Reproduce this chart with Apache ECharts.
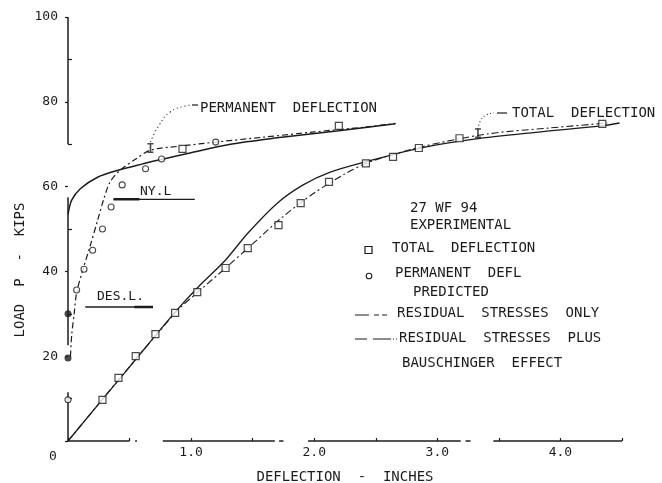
<!DOCTYPE html>
<html><head><meta charset="utf-8">
<script src="https://cdn.jsdelivr.net/npm/echarts@6/dist/echarts.min.js"></script>
<style>html,body{margin:0;padding:0;background:#fff}#c{width:662px;height:483px}</style>
</head><body><div id="c"></div>
<script>
// ---- tick labels ----
const xLabelValues = [0, 1, 2, 3, 4];
const xTickLabels = ['0', '1.0', '2.0', '3.0', '4.0'];
const yLabelValues = [20, 40, 60, 80, 100];
const yTickLabels = ['20', '40', '60', '80', '100'];

// ---- experimental points ----
const totalSquares = [[0.28,9.7],[0.41,14.9],[0.55,20],[0.71,25.2],[0.87,30.2],[1.05,35.1],[1.28,40.8],[1.46,45.5],[1.71,50.9],[1.89,56.1],[2.12,61.1],[2.42,65.5],[2.64,67],[2.85,69.1],[3.18,71.4],[4.34,74.8],[0.93,68.9],[2.2,74.3]];
const permCircles = [[0,9.7],[0.07,35.6],[0.13,40.5],[0.2,45],[0.28,50],[0.35,55.2],[0.44,60.4],[0.63,64.2],[0.76,66.5],[1.2,70.5]];
const permFilled = [[0,19.6],[0,30]];
const iBars = [[0.67,69.1],[3.33,72.6]];

// ---- predicted curves ----
const totalSolid = [[0,0],[0.5,17.5],[0.87,30.4],[1.05,36.1],[1.28,42.7],[1.46,49],[1.70,56.1],[1.91,60.4],[2.13,63.4],[2.41,65.8],[2.86,69.1],[3.3,71.2],[3.8,72.8],[4.33,74.3],[4.48,75]];
const totalDashDot = [[0,0],[0.87,30.2],[1.05,35],[1.28,40.8],[1.5,46.5],[1.75,53],[2.0,58.5],[2.25,63],[2.45,65.8],[2.86,69.3],[3.4,72.4],[3.9,73.8],[4.38,75]];
const permSolid = [[0,53.5],[0.03,56.8],[0.1,59.5],[0.24,62.2],[0.4,63.8],[0.6,65.3],[0.76,66.4],[1.0,68.0],[1.32,70.0],[1.7,71.5],[2.2,73.2],[2.66,74.8]];
const permDashDot = [[0.02,20],[0.03,25],[0.05,30],[0.07,35],[0.12,40.3],[0.18,46],[0.24,52],[0.29,57],[0.34,61],[0.42,63.8],[0.55,66.5],[0.67,68.6],[0.93,69.6],[1.2,70.5],[1.6,71.7],[2.0,72.9],[2.4,74],[2.66,74.9]];

// ---- reference loads ----
const nylLine = [[0.37,57],[1.03,57]];
const nylThick = [[0.37,57],[0.58,57]];
const desLine = [[0.14,31.6],[0.69,31.6]];
const desThick = [[0.54,31.6],[0.69,31.6]];

// ---- annotation leaders ----
const permLeader = [[0.67,70.5],[0.74,74.5],[0.83,77.6],[0.95,79],[1.0,79.2]];
const totalLeader = [[3.33,73.6],[3.35,75.5],[3.39,76.8],[3.46,77.4]];

// ---- broken axis lines (as drawn) ----
const xAxisSegments = [[0,0.5],[0.545,0.56],[0.77,1.68],[1.715,1.75],[1.95,3.19],[3.23,3.27],[3.455,4.5]];
const yAxisSegments = [[70,100],[22.6,57.5],[0,11.5]];

const ink = '#1c1c1c';
const font = '"DejaVu Sans Mono", monospace';

function line(name, data, type, width, z) {
  return { name, type: 'line', data, smooth: 0.3, symbol: 'none', clip: false, z: z || 2,
    lineStyle: { color: ink, width, type } };
}
const series = [
  line('Total – residual stresses only', totalSolid, 'solid', 1.3),
  line('Total – residual stresses plus Bauschinger', totalDashDot, [7,3,2,3], 1.1),
  line('Permanent – residual stresses only', permSolid, 'solid', 1.5),
  line('Permanent – residual stresses plus Bauschinger', permDashDot, [6,3,2,3], 1.2),
  { type: 'line', data: permLeader, smooth: 0.5, symbol: 'none', clip: false, lineStyle: { color: ink, width: 1.1, type: [1,3] } },
  { type: 'line', data: totalLeader, smooth: 0.5, symbol: 'none', clip: false, lineStyle: { color: ink, width: 1.1, type: [1,2.5] } },
  { type: 'line', data: nylLine, symbol: 'none', lineStyle: { color: ink, width: 1.3 } },
  { type: 'line', data: nylThick, symbol: 'none', lineStyle: { color: ink, width: 2.4 } },
  { type: 'line', data: desLine, symbol: 'none', lineStyle: { color: ink, width: 1.3 } },
  { type: 'line', data: desThick, symbol: 'none', lineStyle: { color: ink, width: 2.4 } },
  { name: 'Total deflection', type: 'scatter', data: totalSquares, symbol: 'rect', symbolSize: 7, z: 5,
    itemStyle: { color: '#fff', borderColor: ink, borderWidth: 1.2 } },
  { name: 'Permanent deflection', type: 'scatter', data: permCircles, symbol: 'circle', symbolSize: 6, z: 5,
    itemStyle: { color: '#fff', borderColor: ink, borderWidth: 1.1 } },
  { type: 'scatter', data: permFilled, symbol: 'circle', symbolSize: 7, z: 5, itemStyle: { color: ink } },
  { type: 'scatter', data: iBars, symbol: 'path://M0,0h6v1.6h-2.2v6.8h2.2v1.6h-6v-1.6h2.2v-6.8h-2.2z', symbolSize: [6,10], z: 6, itemStyle: { color: ink } }
];
xAxisSegments.forEach(s => series.push({ type: 'line', data: [[s[0],0],[s[1],0]], symbol: 'none', clip: false, z: 1, lineStyle: { color: ink, width: 1.5 } }));
yAxisSegments.forEach(s => series.push({ type: 'line', data: [[0,s[0]],[0,s[1]]], symbol: 'none', clip: false, z: 1, lineStyle: { color: ink, width: 1.5 } }));

function txt(text, x, y, size, extra) {
  return Object.assign({ type: 'text', z: 10, style: { text, x, y, fontFamily: font, fontSize: size || 14, fill: ink, verticalAlign: 'middle', align: 'left' } }, extra || {});
}
function seg(x1, y1, x2, y2, dash, w) {
  return { type: 'line', z: 10, shape: { x1, y1, x2, y2 }, style: { stroke: ink, lineWidth: w || 1.2, lineDash: dash || null } };
}

const chart = echarts.init(document.getElementById('c'), null, { renderer: 'canvas' });
chart.setOption({
  backgroundColor: '#fff',
  animation: false,
  grid: { left: 68, right: 40, top: 17, bottom: 42, containLabel: false, outerBoundsMode: 'none' },
  xAxis: {
    type: 'value', min: 0, max: 4.5, interval: 0.5,
    axisLine: { show: false }, splitLine: { show: false },
    axisTick: { show: true, inside: true, length: 3, lineStyle: { color: ink, width: 1.2 } },
    axisLabel: { customValues: xLabelValues, margin: 5, color: ink, fontFamily: font, fontSize: 13,
      formatter: v => { const i = xLabelValues.indexOf(v); const t = i >= 0 ? xTickLabels[i] : ''; return v === 0 ? '{z|' + t + '}' : t; },
      rich: { z: { padding: [4, 30, 0, 0], fontFamily: font, fontSize: 13, color: ink } } },
    name: 'DEFLECTION  -  INCHES', nameLocation: 'middle', nameGap: 36,
    nameTextStyle: { color: ink, fontFamily: font, fontSize: 14, verticalAlign: 'middle' }
  },
  yAxis: [{
    type: 'value', min: 0, max: 100, interval: 20,
    axisLine: { show: false }, splitLine: { show: false },
    axisTick: { show: true, inside: false, length: 3, lineStyle: { color: ink, width: 1.2 } },
    axisLabel: { customValues: yLabelValues, margin: 10, color: ink, fontFamily: font, fontSize: 13,
      formatter: v => { const i = yLabelValues.indexOf(v); return i >= 0 ? yTickLabels[i] : ''; } }
  }, {
    type: 'value', min: 0, max: 100, position: 'left',
    axisLine: { show: false }, splitLine: { show: false }, axisLabel: { show: false },
    axisTick: { show: true, inside: true, length: 4, customValues: [10,30,50,70,90], lineStyle: { color: ink, width: 1.2 } }
  }],
  graphic: [
    txt('LOAD  P  -  KIPS', 20, 270, 14, { rotation: Math.PI / 2, style: { text: 'LOAD  P  -  KIPS', x: 0, y: 0, fontFamily: font, fontSize: 14, fill: ink, verticalAlign: 'middle', align: 'center' }, x: 20, y: 270 }),
    seg(192, 105, 198, 105),
    txt('PERMANENT  DEFLECTION', 200, 108),
    seg(497, 113, 507, 113),
    txt('TOTAL  DEFLECTION', 512, 113),
    txt('NY.L', 140, 192, 13),
    txt('DES.L.', 97, 297, 13),
    txt('27 WF 94', 410, 208),
    txt('EXPERIMENTAL', 410, 225),
    { type: 'rect', z: 10, shape: { x: 365, y: 246.5, width: 7, height: 7 }, style: { fill: '#fff', stroke: ink, lineWidth: 1.2 } },
    txt('TOTAL  DEFLECTION', 392, 248),
    { type: 'circle', z: 10, shape: { cx: 369, cy: 276, r: 2.8 }, style: { fill: '#fff', stroke: ink, lineWidth: 1.1 } },
    txt('PERMANENT  DEFL', 395, 273),
    txt('PREDICTED', 413, 292),
    seg(355, 315, 387, 315, [14, 5, 5, 3]),
    txt('RESIDUAL  STRESSES  ONLY', 397, 313),
    seg(355, 339, 397, 339, [12, 6, 18, 2, 1, 2]),
    txt('RESIDUAL  STRESSES  PLUS', 399, 338),
    txt('BAUSCHINGER  EFFECT', 402, 363)
  ],
  series
});
</script></body></html>
